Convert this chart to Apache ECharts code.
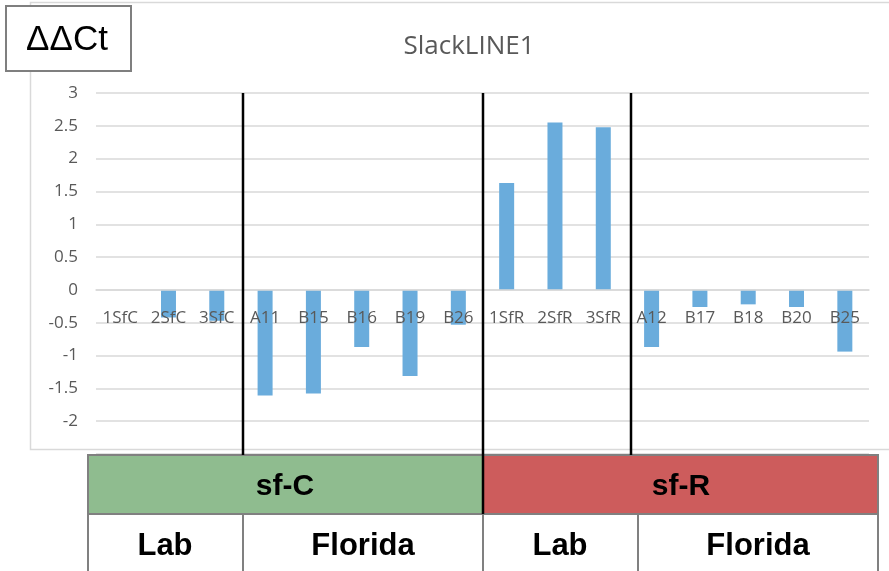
<!DOCTYPE html>
<html>
<head>
<meta charset="utf-8">
<script src="https://cdn.jsdelivr.net/npm/echarts@6/dist/echarts.min.js"></script>
<style>
    html, body { margin: 0; padding: 0; background: #fff; }
    #main { width: 889px; height: 571px; }
</style>
</head>
<body>
<div id="main"></div>
<script>
// 样本名称 (横轴)
const samples = ['1SfC', '2SfC', '3SfC', 'A11', 'B15', 'B16', 'B19', 'B26',
    '1SfR', '2SfR', '3SfR', 'A12', 'B17', 'B18', 'B20', 'B25'];
// ΔΔCt 数值
const ddct = [0, -0.42, -0.47, -1.61, -1.58, -0.87, -1.31, -0.53,
    1.63, 2.55, 2.48, -0.87, -0.26, -0.22, -0.26, -0.94];
// 纵轴刻度
const yMin = -2.5;
const yMax = 3;
const yStep = 0.5;
// 底部表格文字
const groupLabels = ['sf-C', 'sf-R'];
const siteLabels = ['Lab', 'Florida', 'Lab', 'Florida'];

const grayText = '#595959';
const gridGray = '#d9d9d9';
const tableGray = '#808080';

const gridTop = 93;
const gridHeight = 361;
// 横轴放到 0 的位置
const zeroOffset = -gridHeight * (0 - yMin) / (yMax - yMin);

let chart = echarts.init(document.getElementById('main'));

// 底部表格
function tableGraphics() {
    const top = 455, mid = 514, bottom = 572;
    const left = 88, split = 483, right = 878;
    const cols = [243, 483, 638];
    const siteCenters = [165, 363, 560, 758];
    let items = [
        { type: 'rect', shape: { x: left, y: top, width: split - left, height: mid - top }, style: { fill: '#8fbc8f' }, z: 10 },
        { type: 'rect', shape: { x: split, y: top, width: right - split, height: mid - top }, style: { fill: '#cd5c5c' }, z: 10 },
        { type: 'rect', shape: { x: left, y: mid, width: right - left, height: bottom - mid }, style: { fill: '#fff' }, z: 10 },
        { type: 'polyline', shape: { points: [[left, bottom], [left, top], [right, top], [right, bottom]] }, style: { stroke: tableGray, lineWidth: 2, fill: null }, z: 11 },
        { type: 'line', shape: { x1: left, y1: mid, x2: right, y2: mid }, style: { stroke: tableGray, lineWidth: 2 }, z: 11 },
        { type: 'text', x: 285, y: 487, style: { text: groupLabels[0], font: 'bold 30px "Liberation Sans", Arial, sans-serif', fill: '#000', align: 'center', verticalAlign: 'middle' }, z: 12 },
        { type: 'text', x: 681, y: 487, style: { text: groupLabels[1], font: 'bold 30px "Liberation Sans", Arial, sans-serif', fill: '#000', align: 'center', verticalAlign: 'middle' }, z: 12 }
    ];
    cols.forEach(function(x) {
        items.push({ type: 'line', shape: { x1: x, y1: mid, x2: x, y2: bottom }, style: { stroke: tableGray, lineWidth: 2 }, z: 11 });
    });
    siteLabels.forEach(function(label, i) {
        items.push({ type: 'text', x: siteCenters[i], y: 546, style: { text: label, font: 'bold 31px "Liberation Sans", Arial, sans-serif', fill: '#000', align: 'center', verticalAlign: 'middle' }, z: 12 });
    });
    return items;
}

// 分组竖线
function dividerGraphics() {
    const lines = [[243, 455], [483, 514], [631, 455]];
    return lines.map(function(l) {
        return { type: 'line', shape: { x1: l[0], y1: gridTop, x2: l[0], y2: l[1] }, style: { stroke: '#000', lineWidth: 2.5 }, z: 13 };
    });
}

const option = {
    animation: false,
    backgroundColor: '#fff',
    title: {
        text: 'SlackLINE1',
        left: 464,
        top: 29,
        textAlign: 'center',
        textStyle: { fontFamily: 'Open Sans', fontSize: 26, fontWeight: 'normal', color: grayText }
    },
    grid: { left: 96, right: 20, top: gridTop, height: gridHeight },
    xAxis: {
        type: 'category',
        data: samples,
        position: 'bottom',
        offset: zeroOffset,
        z: 5,
        axisLine: { onZero: false, lineStyle: { color: gridGray, width: 1.5 } },
        axisTick: { show: false },
        axisLabel: { interval: 0, margin: 20, color: grayText, fontFamily: 'Open Sans', fontSize: 17 },
        splitLine: { show: false }
    },
    yAxis: {
        type: 'value',
        min: yMin,
        max: yMax,
        interval: yStep,
        axisLine: { show: false },
        axisTick: { show: false },
        axisLabel: {
            margin: 18,
            color: grayText,
            fontFamily: 'Open Sans',
            fontSize: 17,
            formatter: function(v) { return v === yMin ? '' : String(v); }
        },
        splitLine: { lineStyle: { color: gridGray, width: 1.5 } }
    },
    series: [{
        type: 'bar',
        data: ddct,
        barWidth: 15,
        itemStyle: { color: '#6aacdc' }
    }],
    graphic: [
        { type: 'rect', shape: { x: 30.5, y: 2.5, width: 900, height: 447 }, style: { fill: null, stroke: gridGray, lineWidth: 1.5 }, z: -1 },
        { type: 'rect', shape: { x: 6, y: 6, width: 125, height: 65 }, style: { fill: '#fff', stroke: '#7f7f7f', lineWidth: 2 }, z: 20 },
        { type: 'text', x: 67, y: 40, style: { text: 'ΔΔCt', font: '35px "Liberation Sans", Arial, sans-serif', fill: '#000', align: 'center', verticalAlign: 'middle' }, z: 21 }
    ].concat(dividerGraphics(), tableGraphics())
};

chart.setOption(option);
</script>
</body>
</html>
